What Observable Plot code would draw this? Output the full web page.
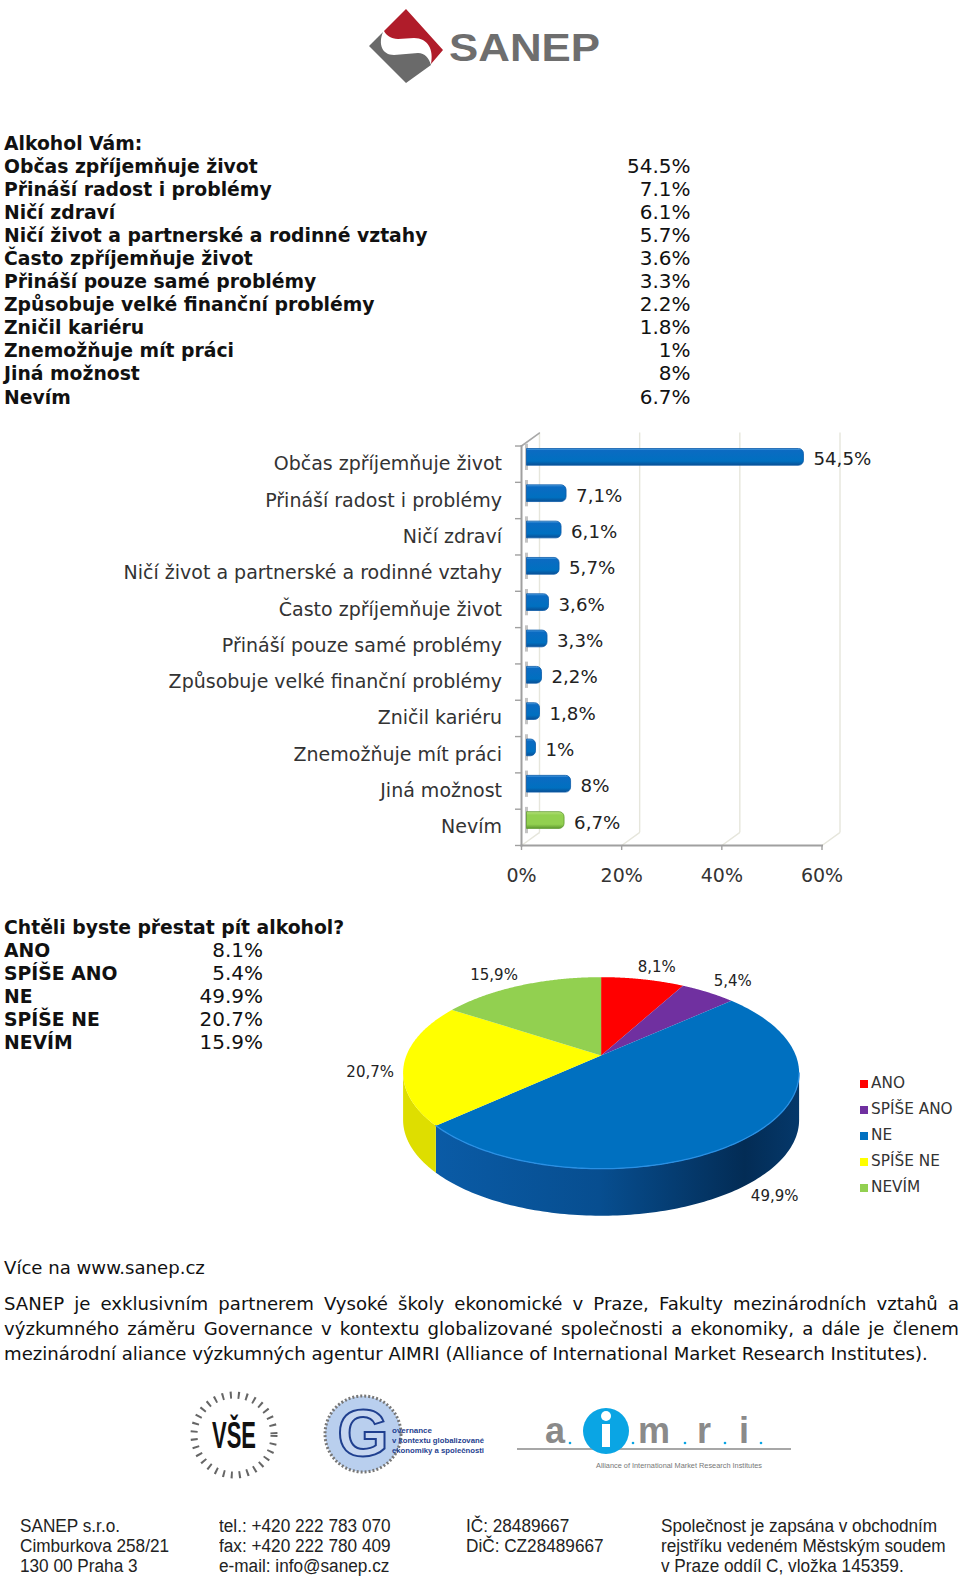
<!DOCTYPE html>
<html lang="cs"><head><meta charset="utf-8">
<script src="https://cdn.jsdelivr.net/npm/d3@7"></script>
<script src="https://cdn.jsdelivr.net/npm/@observablehq/plot@0.6"></script>
<style>
html,body{margin:0;padding:0;background:#fff}
#page{position:relative;width:960px;height:1581px;overflow:hidden;font-family:"DejaVu Sans",sans-serif;color:#111}
.abs{position:absolute}
.tbl{position:absolute;left:4px;font-size:20px;line-height:23.1px}
.tbl .row{position:relative;height:23.1px;white-space:nowrap}
.tbl b{font-weight:bold;font-size:18.8px}
.tbl .v{position:absolute;top:0;text-align:right;font-size:20px}
.para{position:absolute;left:4px;width:955px;font-size:18.1px;line-height:25.2px}
.para div{text-align:justify;text-align-last:justify;white-space:nowrap}
.para div:last-child{text-align-last:left}
.foot{position:absolute;font-family:"Liberation Sans",Arial,sans-serif;font-size:18px;line-height:20px;color:#222;white-space:nowrap;top:1516px;transform:scaleX(.955);transform-origin:left top}
.leg{position:absolute;left:860px;font-size:15.3px;height:26px;line-height:26px;color:#333;white-space:nowrap}
.leg i{display:inline-block;width:8px;height:8px;margin-right:3px;vertical-align:0}
</style></head>
<body><div id="page">
<svg width="0" height="0" style="position:absolute"><defs>
<linearGradient id="barBlue" x1="0" y1="0" x2="0" y2="1"><stop offset="0" stop-color="#5aa8e6"/><stop offset=".12" stop-color="#0b6bc2"/><stop offset=".75" stop-color="#0070c0"/><stop offset="1" stop-color="#0a4f94"/></linearGradient>
<linearGradient id="barGreen" x1="0" y1="0" x2="0" y2="1"><stop offset="0" stop-color="#b8e27e"/><stop offset=".2" stop-color="#92d050"/><stop offset=".75" stop-color="#92d050"/><stop offset="1" stop-color="#5f9a30"/></linearGradient>
<linearGradient id="wallBlue" x1="0" y1="0" x2="1" y2="0"><stop offset="0" stop-color="#0a5ba6"/><stop offset=".45" stop-color="#074e90"/><stop offset=".85" stop-color="#032c55"/><stop offset="1" stop-color="#05386a"/></linearGradient>
</defs></svg>

<!-- SANEP logo -->
<svg class="abs" style="left:360px;top:0" width="250" height="92" viewBox="360 0 250 92">
<path d="M406 9 L443 50 L431 64 C434 50 428 38 414 38 L398 39 C391 39 386 35 384 31 Z" fill="#b01c2a"/>
<path d="M369 46 L383 32 C378 44 382 55 394 55 L418 53 C425 53 429 58 431 65 L406 83 Z" fill="#6a6a6a"/>
<text x="449" y="61" font-family="Liberation Sans" font-weight="bold" font-size="39" fill="#6e6e6e" textLength="151" lengthAdjust="spacingAndGlyphs">SANEP</text>
</svg>

<div id="charts"></div>

<!-- partner logos -->
<svg class="abs" style="left:170px;top:1380px" width="640" height="120" viewBox="170 1380 640 120">
<circle cx="234" cy="1435" r="40" fill="none" stroke="#666" stroke-width="7" stroke-dasharray="2 6"/>
<text x="234" y="1448" text-anchor="middle" font-family="Liberation Sans" font-size="36" font-weight="bold" fill="#111" textLength="44" lengthAdjust="spacingAndGlyphs">VŠE</text>
<circle cx="363" cy="1434" r="38" fill="#b9cfee" stroke="#777" stroke-width="3" stroke-dasharray="2 2"/>
<text x="363" y="1456" text-anchor="middle" font-family="Liberation Sans" font-size="66" font-weight="bold" fill="#c6d6f0" stroke="#1f3f8f" stroke-width="2">G</text>
<g font-family="Liberation Sans" font-weight="bold" font-size="8" fill="#1f3f8f"><text x="392" y="1433">overnance</text><text x="392" y="1443" textLength="92" lengthAdjust="spacingAndGlyphs">v kontextu globalizované</text><text x="392" y="1453" textLength="92" lengthAdjust="spacingAndGlyphs">ekonomiky a společnosti</text></g>
<line x1="517" y1="1449" x2="791" y2="1449" stroke="#8a8a8a" stroke-width="1.4"/>
<circle cx="606" cy="1431" r="23" fill="#0aa5e4"/>
<rect x="602" y="1424" width="8" height="23" fill="#fff"/><circle cx="606" cy="1416" r="5" fill="#fff"/>
<g font-family="Liberation Sans" font-weight="bold" font-size="36" fill="#8a8a8a"><text x="545" y="1443">a</text><text x="638" y="1443">m</text><text x="697" y="1443">r</text><text x="739" y="1443">i</text></g>
<g fill="#0aa5e4"><circle cx="570" cy="1443" r="1.3"/><circle cx="633" cy="1443" r="1.3"/><circle cx="685" cy="1443" r="1.3"/><circle cx="725" cy="1443" r="1.3"/><circle cx="761" cy="1443" r="1.3"/></g>
<text x="596" y="1468" font-family="Liberation Sans" font-size="7.5" fill="#777" textLength="166" lengthAdjust="spacingAndGlyphs">Alliance of International Market Research Institutes</text>
</svg>
</div>

<script>
const reasons = ["Občas zpříjemňuje život","Přináší radost i problémy","Ničí zdraví","Ničí život a partnerské a rodinné vztahy","Často zpříjemňuje život","Přináší pouze samé problémy","Způsobuje velké finanční problémy","Zničil kariéru","Znemožňuje mít práci","Jiná možnost","Nevím"];
const reasonValues = [54.5,7.1,6.1,5.7,3.6,3.3,2.2,1.8,1,8,6.7];
const axisTicks = [0,20,40,60];
const quitLabels = ["ANO","SPÍŠE ANO","NE","SPÍŠE NE","NEVÍM"];
const quitValues = [8.1,5.4,49.9,20.7,15.9];
const quitColors = ["#ff0000","#7030a0","#0070c0","#ffff00","#92d050"];
const moreLine = "Více na www.sanep.cz";
const paragraph = ["SANEP je exklusivním partnerem Vysoké školy ekonomické v Praze, Fakulty mezinárodních vztahů a","výzkumného záměru Governance v kontextu globalizované společnosti a ekonomiky, a dále je členem","mezinárodní aliance výzkumných agentur AIMRI (Alliance of International Market Research Institutes)."];
const footer = [["SANEP s.r.o.","Cimburkova 258/21","130 00 Praha 3"],["tel.: +420 222 783 070","fax: +420 222 780 409","e-mail: info@sanep.cz"],["IČ:  28489667","DiČ: CZ28489667"],["Společnost je zapsána v obchodním","rejstříku vedeném Městským soudem","v Praze oddíl C, vložka 145359."]];

const page = document.getElementById("page");
const el = (cls, css, html) => { const d = document.createElement("div"); d.className = cls; d.style.cssText = css; d.innerHTML = html ?? ""; page.appendChild(d); return d; };

// text tables
function table(top, width, title, labels, values, fmt) {
  const t = el("tbl", `top:${top}px;width:${width}px`);
  t.innerHTML = `<div class="row"><b>${title}</b></div>` + labels.map((l,i) =>
    `<div class="row"><b>${l}</b><span class="v" style="right:0">${fmt(values[i])}</span></div>`).join("");
}
const dot = v => `${v}%`;
table(131.5, 686.5, "Alkohol Vám:", reasons, reasonValues, dot);
table(916, 259, "Chtěli byste přestat pít alkohol?", quitLabels, quitValues, dot);

el("para", "top:1255px", `<div style="text-align-last:left">${moreLine}</div>`);
el("para", "top:1291px", paragraph.map(p => `<div>${p}</div>`).join(""));
[20,219,466,661].forEach((x,i) => el("foot", `left:${x}px`, footer[i].join("<br>")));

// bar chart
const comma = v => String(v).replace(".", ",") + "%";
const rows = reasons.map((label,i) => ({label, value: reasonValues[i]}));
const line = d => ({draw(c,l){c.moveTo(0,0);c.lineTo(0,-l);}});
const barColor = d => d.label === "Nevím" ? "url(#barGreen)" : "url(#barBlue)";
const barEdge = d => d.label === "Nevím" ? "#5f9a30" : "#0b5aa8";
const barChart = Plot.plot({
  width: 960, height: 470,
  marginLeft: 521, marginRight: 138.5, marginTop: 15.5, marginBottom: 55,
  style: {fontFamily: "DejaVu Sans", background: "transparent", overflow: "visible", color: "#333"},
  x: {domain: [0,60]},
  y: {domain: reasons, padding: 0, round: false},
  marks: [
    Plot.ruleX(axisTicks, {dx: 18, dy: -13, stroke: "#e6e6dc", strokeWidth: 1.4}),
    Plot.vector(axisTicks, {x: d=>d, frameAnchor: "bottom", length: 22, rotate: 54, anchor: "start", shape: line(), stroke: "#e6e6dc", strokeWidth: 1.4}),
    Plot.vector([0], {x: d=>d, frameAnchor: "top", length: 22, rotate: 54, anchor: "start", shape: line(), stroke: "#a8a8a8", strokeWidth: 1.6}),
    Plot.frame({anchor: "left", stroke: "#a0a0a0", strokeWidth: 2}),
    Plot.frame({anchor: "bottom", stroke: "#a0a0a0", strokeWidth: 2}),
    Plot.ruleY(reasons, {y: d=>d, x1: -1.2, x2: 0, dy: -18.14, stroke: "#a0a0a0", strokeWidth: 1.4}),
    Plot.ruleY(reasons.slice(-1), {y: d=>d, x1: -1.2, x2: 0, dy: 18.14, stroke: "#a0a0a0", strokeWidth: 1.4}),
    Plot.axisX({ticks: axisTicks, tickFormat: d => d + "%", tickSize: 5, tickPadding: 18, fontSize: 19, stroke: "#a0a0a0", strokeWidth: 1.4, fill: "#333", label: null}),
    Plot.axisY({tickSize: 0, tickPadding: 19.5, fontSize: 19, fill: "#333", label: null, lineWidth: 100, textOverflow: null}),
    Plot.tickX(rows, {x: 0, y: "label", dx: 5, dy: -6.8, insetTop: 5, insetBottom: 5, stroke: "#c4c4c4", strokeWidth: 3}),
    Plot.barX(rows, {x: "value", y: "label", dx: 5.5, dy: -6.8, insetTop: 9.8, insetBottom: 9.8, insetRight: -4, rx2: 5, fill: barColor, stroke: barEdge, strokeWidth: .8}),
    Plot.text(rows, {x: "value", y: "label", text: d => comma(d.value), dx: 19, dy: -4.5, textAnchor: "start", fontSize: 18.2, fill: "#222"})
  ]
});
barChart.style.cssText += ";position:absolute;left:0;top:430px";
page.appendChild(barChart);

// pie: projected disc, slices derived from values
const k = -0.182, R = 194.7, A = 92.6, depth = 47;
const rim = f => { const t = 2*Math.PI*f, u = Math.sin(t), v = -Math.cos(t), d = 1 + k*v; return [R*u/d, A*v/d]; };
const total = d3.sum(quitValues);
let acc = 0;
const slices = quitLabels.map((label,i) => { const a = acc/total; acc += quitValues[i]; return {label, value: quitValues[i], color: quitColors[i], a, b: acc/total}; });
const arc = (a,b) => d3.range(0, 121).map(i => a + (b-a)*i/120);
const piePts = [];
const wallPts = [];
const grid = d3.range(0,1441).map(i => i/1440);
const fRight = d3.greatest(grid, f => rim(f)[0]);
const fLeft = d3.least(grid, f => rim(f)[0]);
for (const s of slices) {
  piePts.push({id:s.label, x:0, y:0, fill:s.color});
  for (const f of arc(s.a,s.b)) { const [x,y] = rim(f); piePts.push({id:s.label, x, y, fill:s.color}); }
}
function wall(id, a, b, fill) {
  const fs = arc(a,b);
  for (const f of fs) { const [x,y] = rim(f); wallPts.push({id, x, y, fill}); }
  for (const f of fs.slice().reverse()) { const [x,y] = rim(f); wallPts.push({id, x, y: y+depth, fill}); }
}
const ne = slices[2], sne = slices[3];
wall("wNE", fRight, ne.b, "url(#wallBlue)");
wall("wSNE", ne.b, fLeft, "#dede00");
const frontRim = arc(fRight, ne.b).map(f => { const [x,y] = rim(f); return {x,y}; });
const nudges = [[14,-12],[24.6,-11],[24,61],[-34,9],[-26.6,-10]];
const pieLabels = slices.map((s,i) => { const [x,y] = rim((s.a+s.b)/2); return {x: x+nudges[i][0], y: y+nudges[i][1], text: comma(s.value)}; });
const pie = Plot.plot({
  width: 620, height: 290, margin: 0,
  style: {fontFamily: "DejaVu Sans", background: "transparent", overflow: "visible"},
  x: {domain: [-260.6, 359.4], range: [0,620], axis: null},
  y: {domain: [-115, 175], range: [0,290], axis: null},
  marks: [
    Plot.line(wallPts, {x:"x", y:"y", z:"id", fill:"fill", stroke:"none"}),
    Plot.line(piePts, {x:"x", y:"y", z:"id", fill:"fill", stroke:"none"}),
    Plot.line(frontRim, {x:"x", y:"y", stroke:"#2a90e4", strokeWidth:1.3}),
    Plot.text(pieLabels, {x:"x", y:"y", text:"text", fontSize:15, fill:"#222"})
  ]
});
pie.style.cssText += ";position:absolute;left:340px;top:940px";
page.appendChild(pie);

// legend
quitLabels.forEach((l,i) => el("leg", `top:${1070 + i*26}px`, `<i style="background:${quitColors[i]}"></i>${l}`));
</script>
</body></html>
